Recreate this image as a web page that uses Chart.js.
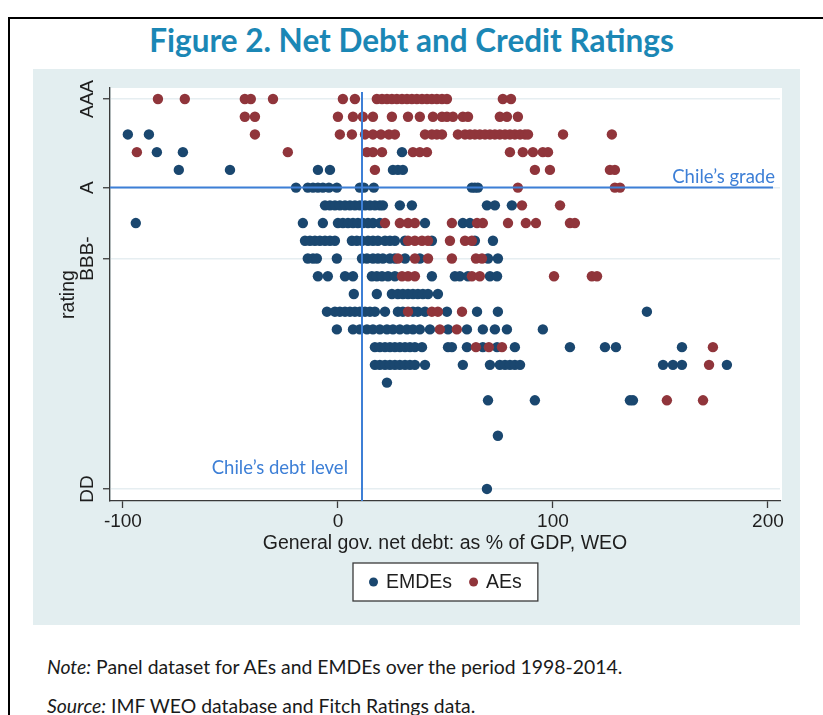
<!DOCTYPE html>
<html><head><meta charset="utf-8">
<script src="https://cdn.jsdelivr.net/npm/chart.js@4.4.1/dist/chart.umd.min.js"></script>
<style>
html,body{margin:0;padding:0;background:#fff;width:823px;height:715px;overflow:hidden;}
#frame{position:absolute;left:8px;top:17px;width:900px;height:800px;border-left:2px solid #000;border-top:2px solid #000;}
#title{position:absolute;left:0;width:823px;top:21px;line-height:38px;text-align:center;font-family:Lato,"Open Sans",sans-serif;font-weight:700;font-size:31.5px;color:#1b87b5;}
#wrap{position:absolute;left:33px;top:69px;width:767px;height:556px;}
.note{position:absolute;left:47px;font-family:Lato,"Open Sans",sans-serif;font-size:19.4px;line-height:22px;color:#1a1a1a;white-space:nowrap;}
</style></head>
<body>
<div id="frame"></div>
<div id="title">Figure 2. Net Debt and Credit Ratings</div>
<div id="wrap"><canvas id="c" width="767" height="556"></canvas></div>
<div class="note" style="top:656px"><i>Note:</i> Panel dataset for AEs and EMDEs over the period 1998-2014.</div>
<div class="note" style="top:695px"><i>Source:</i> IMF WEO database and Fitch Ratings data.</div>
<script>
// Rating scale: 22 = AAA ... 0 = DD
const ratingTickValues = [22, 17, 13, 0];
const ratingTickLabels = ['AAA', 'A', 'BBB-', 'DD'];
const debtTickValues = [-100, 0, 100, 200];
const chileDebt = 11.2;
const chileGrade = 17;
const seriesNames = ['EMDEs', 'AEs'];

// Net debt (% of GDP) by rating row, EMDEs
const emdesRows = [
  [20, [-97.7, -87.9]],
  [19, [-84.2, -72.1, 29.8]],
  [18, [-74.0, -50.2, -9.3, -3.7, 25.6, 27.9, 30.2]],
  [17, [-19.5, -14.0, -11.6, -9.3, -7.0, -4.2, -0.5, 10.2, 12.1, 16.7, 62.3, 63.7, 65.1]],
  [16, [-6.0, -3.7, -1.4, 0.9, 3.3, 5.6, 7.9, 10.2, 12.6, 14.9, 17.2, 19.5, 20.9, 28.8, 34.4, 69.3, 73.0, 80.9]],
  [15, [-94.0, -16.3, -7.0, 0, 2.3, 4.7, 7.0, 9.3, 11.6, 14.0, 16.3, 19.5, 40.5, 58.1, 61.4]],
  [14, [-15.3, -13.0, -10.7, -8.4, -6.0, -3.7, -1.4, 6.5, 8.8, 11.2, 14.0, 16.3, 18.6, 21.9, 24.2, 26.5, 31.2, 43.7, 63.7, 72.1]],
  [13, [-14.0, -11.6, -9.8, -0.5, 11.2, 13.5, 16.3, 18.6, 20.9, 24.2, 26.5, 31.2, 38.1, 69.8, 74.4]],
  [12, [-9.3, -4.7, 3.3, 7.0, 15.8, 18.1, 20.5, 23.3, 26.5, 43.7, 54.4, 56.7, 60.5, 70.7, 74.0]],
  [11, [7.4, 18.1, 25.1, 27.9, 30.2, 32.6, 34.9, 37.2, 39.5, 41.9, 46.5]],
  [10, [-5.1, -1.4, 0.9, 3.3, 5.6, 7.9, 10.2, 12.6, 14.9, 17.2, 21.9, 27.9, 30.2, 34.9, 37.2, 40.5, 50.7, 64.7, 74.4, 143.7]],
  [9, [-0.5, 7.0, 10.2, 13.5, 16.3, 19.5, 22.8, 25.6, 28.8, 32.1, 34.9, 38.1, 42.8, 51.2, 60.0, 67.4, 73.0, 78.6, 95.3]],
  [8, [17.2, 19.5, 21.9, 24.2, 26.5, 28.8, 31.2, 33.5, 35.8, 39.1, 51.2, 53.0, 60.0, 67.4, 74.0, 82.3, 107.9, 124.2, 129.3, 160.0]],
  [7, [17.2, 19.5, 21.9, 24.2, 26.5, 28.8, 31.2, 33.5, 35.8, 40.5, 58.1, 70.7, 75.3, 77.7, 80.0, 82.3, 84.7, 151.2, 155.8, 160.0, 180.9]],
  [6, [22.8]],
  [5, [69.8, 91.6, 135.8, 137.2]],
  [3, [74.4]],
  [0, [69.3]]
];

// Net debt (% of GDP) by rating row, AEs
const aesRows = [
  [22, [-83.7, -71.2, -43.3, -40.5, -30.2, 2.3, 7.9, 18.1, 20.5, 22.8, 25.1, 27.4, 29.8, 32.1, 34.4, 36.7, 39.1, 41.4, 43.7, 46.0, 48.4, 50.7, 76.7, 80.5]],
  [21, [-43.3, -38.6, 0, 7.0, 11.6, 16.3, 25.1, 32.6, 38.1, 44.2, 48.4, 50.7, 53.5, 58.1, 60.5, 75.3, 78.6, 83.7]],
  [20, [-38.6, 0.9, 6.5, 12.6, 16.3, 20.0, 23.7, 26.5, 40.5, 43.7, 46.0, 48.4, 55.8, 59.1, 61.4, 63.7, 66.0, 68.4, 70.7, 73.0, 75.3, 77.7, 80.0, 82.3, 84.7, 87.0, 88.4, 104.7, 127.4]],
  [19, [-93.5, -23.3, 13.5, 16.3, 20.5, 34.9, 38.1, 41.4, 80.0, 86.0, 90.7, 95.3, 97.7]],
  [18, [17.2, 91.6, 98.6, 126.5, 128.8]],
  [17, [83.7, 128.8, 131.2]],
  [16, [85.6, 103.3]],
  [15, [21.9, 28.8, 32.6, 35.8, 53.0, 64.7, 67.4, 79.1, 87.4, 92.1, 107.9, 110.2]],
  [14, [32.6, 35.8, 39.1, 41.9, 52.1, 59.1, 62.3]],
  [13, [27.9, 35.8, 41.9, 53.0, 64.2, 67.0]],
  [12, [29.8, 32.6, 35.8, 62.3, 66.0, 100.5, 118.1, 120.5]],
  [10, [32.6, 43.7, 46.5, 57.7]],
  [9, [47.4, 55.3]],
  [8, [64.2, 70.2, 76.3, 174.4]],
  [7, [172.6]],
  [5, [153.0, 169.8]]
];

function toPoints(rows) {
  const pts = [];
  rows.forEach(([r, xs]) => xs.forEach(x => pts.push({x: x, y: r})));
  return pts;
}

const BG = '#e3eef0';
const AXIS = '#3a3a3a';
const TXT = '#1e1e1e';
const REF = '#3d7fd6';
const STATA_FONT = '"Liberation Sans", Arial, sans-serif';
const CAL_FONT = 'Lato, "Open Sans", sans-serif';

const bgPlugin = {
  id: 'bg',
  beforeDraw(chart) {
    const {ctx, chartArea: a} = chart;
    ctx.save();
    ctx.fillStyle = BG;
    ctx.fillRect(0, 0, chart.width, chart.height);
    ctx.fillStyle = '#ffffff';
    ctx.fillRect(a.left + 1, a.top, a.right - a.left + 1, a.bottom - a.top - 1);
    ctx.restore();
  }
};

const refPlugin = {
  id: 'refs',
  afterDatasetsDraw(chart) {
    const {ctx, chartArea: a, scales: {x, y}} = chart;
    const vx = x.getPixelForValue(chileDebt);
    const hy = y.getPixelForValue(chileGrade);
    ctx.save();
    ctx.strokeStyle = REF;
    ctx.lineWidth = 2;
    ctx.beginPath();
    ctx.moveTo(vx, a.top + 4);
    ctx.lineTo(vx, a.bottom);
    ctx.moveTo(a.left, hy);
    ctx.lineTo(a.right - 7, hy);
    ctx.stroke();
    ctx.fillStyle = REF;
    ctx.font = '18.5px ' + CAL_FONT;
    ctx.textAlign = 'right';
    ctx.textBaseline = 'middle';
    ctx.fillText('Chile\u2019s grade', a.right - 5, hy - 11);
    ctx.fillText('Chile\u2019s debt level', vx - 14, a.bottom - 33);
    ctx.restore();
  }
};

const yLabelPlugin = {
  id: 'ylabels',
  afterDraw(chart) {
    const {ctx, scales: {y}} = chart;
    ctx.save();
    ctx.fillStyle = TXT;
    ctx.font = '19px ' + STATA_FONT;
    ctx.textAlign = 'center';
    ctx.textBaseline = 'middle';
    ratingTickValues.forEach((v, i) => {
      const py = y.getPixelForValue(v);
      ctx.save();
      ctx.translate(y.right - 22, py);
      ctx.rotate(-Math.PI / 2);
      ctx.fillText(ratingTickLabels[i], 0, 0);
      ctx.restore();
    });
    ctx.restore();
  }
};

const legendPlugin = {
  id: 'boxlegend',
  afterDraw(chart) {
    const {ctx, chartArea: a} = chart;
    const ds = chart.data.datasets;
    ctx.save();
    ctx.font = '19.5px ' + STATA_FONT;
    const pad = 16, dot = 4.5, gap = 8, itemGap = 17;
    const widths = ds.map(d => ctx.measureText(d.label).width);
    let total = pad * 2;
    widths.forEach((w, i) => { total += dot * 2 + gap + w + (i ? itemGap : 0); });
    const cx = (a.left + a.right) / 2;
    const left = Math.round(cx - total / 2);
    const top = a.bottom + 62, h = 38;
    ctx.fillStyle = '#ffffff';
    ctx.fillRect(left, top, total, h);
    ctx.strokeStyle = AXIS;
    ctx.lineWidth = 1.3;
    ctx.strokeRect(left, top, total, h);
    let xx = left + pad;
    const cy = top + h / 2;
    ds.forEach((d, i) => {
      if (i) xx += itemGap;
      ctx.fillStyle = d.backgroundColor;
      ctx.beginPath();
      ctx.arc(xx + dot, cy, dot, 0, Math.PI * 2);
      ctx.fill();
      xx += dot * 2 + gap;
      ctx.fillStyle = TXT;
      ctx.textAlign = 'left';
      ctx.textBaseline = 'middle';
      ctx.fillText(d.label, xx, cy + 1);
      xx += widths[i];
    });
    ctx.restore();
  }
};

new Chart(document.getElementById('c'), {
  type: 'scatter',
  data: {
    datasets: [
      {label: seriesNames[0], data: toPoints(emdesRows), backgroundColor: '#1a476f', borderWidth: 0, pointRadius: 5.2, pointHoverRadius: 5.2, order: 2},
      {label: seriesNames[1], data: toPoints(aesRows), backgroundColor: '#90353b', borderWidth: 0, pointRadius: 5.2, pointHoverRadius: 5.2, order: 1}
    ]
  },
  options: {
    responsive: false,
    animation: false,
    devicePixelRatio: 1,
    layout: {padding: {left: 0, right: 20, top: 19, bottom: 69}},
    plugins: {legend: {display: false}, tooltip: {enabled: false}},
    scales: {
      x: {
        type: 'linear', min: -106, max: 205.6,
        afterBuildTicks: s => { s.ticks = debtTickValues.map(v => ({value: v})); },
        afterFit: s => { s.height = 55; },
        grid: {drawOnChartArea: false, tickLength: 7, tickColor: AXIS, tickWidth: 1.3},
        border: {display: true, color: AXIS, width: 1.3},
        ticks: {font: {family: STATA_FONT, size: 19}, color: TXT, padding: 2, maxRotation: 0, callback: v => String(v)},
        title: {display: true, text: 'General gov. net debt: as % of GDP, WEO', font: {family: STATA_FONT, size: 19.5}, color: TXT, padding: {top: 0, bottom: 1}}
      },
      y: {
        type: 'linear', min: -0.68, max: 22.62,
        afterBuildTicks: s => { s.ticks = ratingTickValues.map(v => ({value: v})); },
        afterFit: s => { s.width = 77; },
        grid: {color: '#e6eef1', lineWidth: 1.5, tickLength: 7, tickColor: AXIS, tickWidth: 1.3},
        border: {display: true, color: AXIS, width: 1.3},
        ticks: {display: false},
        title: {display: true, text: 'rating', font: {family: STATA_FONT, size: 19.5}, color: TXT, padding: {top: 24, bottom: 0}}
      }
    }
  },
  plugins: [bgPlugin, refPlugin, yLabelPlugin, legendPlugin]
});
</script>
</body></html>
